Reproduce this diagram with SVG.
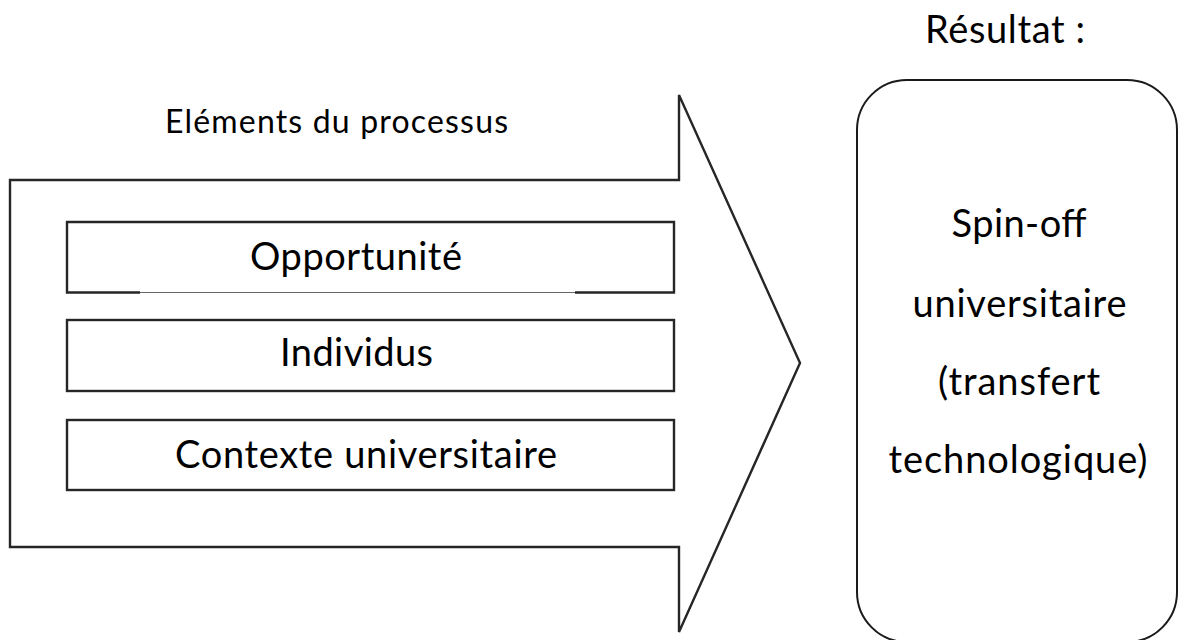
<svg xmlns="http://www.w3.org/2000/svg" width="1179" height="640" viewBox="0 0 1179 640">
<style>
.ln{fill:#fff;stroke:#262626;stroke-width:2.4}
.t{font-family:Lato,"Open Sans","Liberation Sans",sans-serif;fill:#000;text-anchor:middle}
.big{font-size:38px}
.sm{font-size:32px}
</style>
<rect width="1179" height="640" fill="#fff"/>
<g id="arrow">
<polygon class="ln" points="10,180 679,180 679,95 800,363 679,632 679,547 10,547"/>
<text class="t sm" x="336.5" y="133" textLength="343">Eléments du processus</text>
</g>
<g id="box-opportunite">
<path d="M140,292.5 H67 V222 H674 V292.5 H575" fill="#fff" stroke="#262626" stroke-width="2.4"/>
<line x1="140" y1="292.5" x2="575" y2="292.5" stroke="#666" stroke-width="1"/>
<text class="t big" x="356" y="270" textLength="212">Opportunité</text>
</g>
<g id="box-individus">
<rect class="ln" x="67" y="320" width="607" height="71"/>
<text class="t big" x="356.5" y="366" textLength="153">Individus</text>
</g>
<g id="box-contexte">
<rect class="ln" x="67" y="420" width="607" height="70"/>
<text class="t big" x="366" y="468" textLength="382">Contexte universitaire</text>
</g>
<g id="resultat">
<text class="t big" x="1005" y="43" textLength="160">Résultat :</text>
<rect x="857" y="80" width="320" height="562" rx="50" ry="50" fill="#fff" stroke="#1a1a1a" stroke-width="2"/>
<text class="t big" x="1019" y="237" textLength="135">Spin-off</text>
<text class="t big" x="1019.5" y="317" textLength="214">universitaire</text>
<text class="t big" x="1019" y="395" textLength="162">(transfert</text>
<text class="t big" x="1018" y="473" textLength="259">technologique)</text>
</g>
<g id="connectors"></g>
</svg>
